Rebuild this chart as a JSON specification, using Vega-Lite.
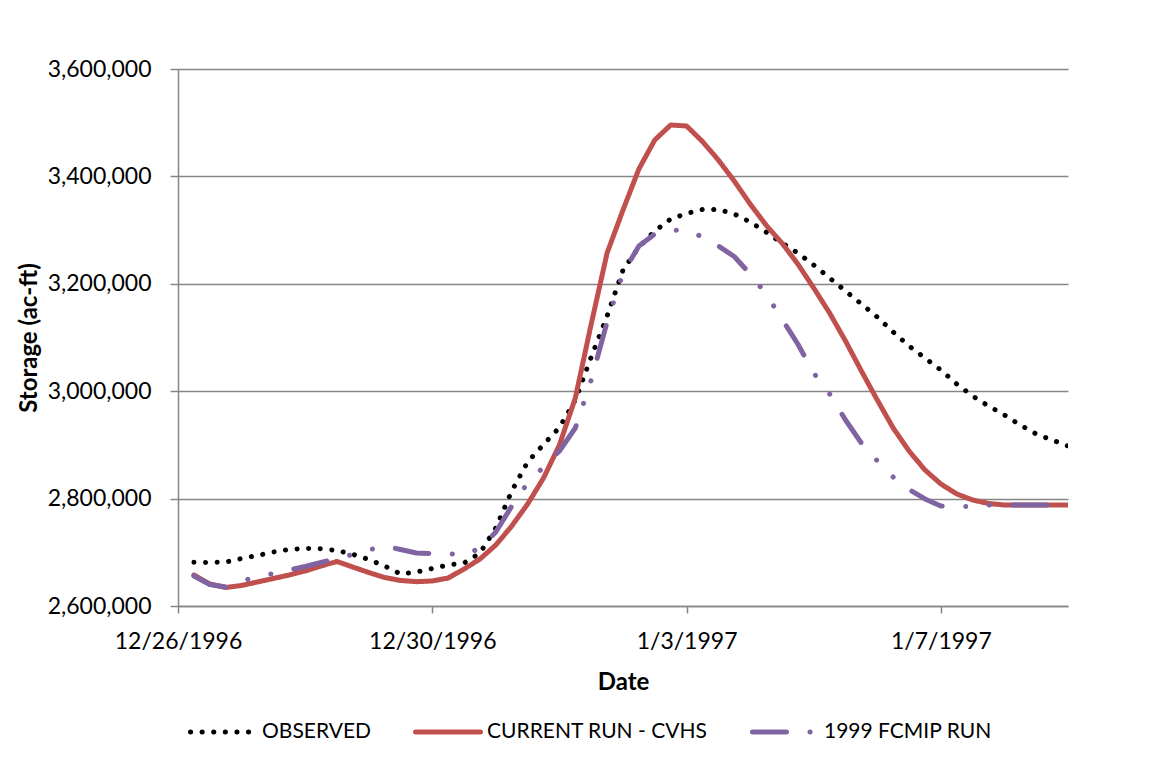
{
  "$schema": "https://vega.github.io/schema/vega-lite/v6.json",
  "width": 890,
  "height": 537,
  "autosize": {"type": "none"},
  "padding": {"left": 178, "top": 69, "right": 82, "bottom": 160},
  "background": "white",
  "config": {"view": {"stroke": null}, "font": "Lato"},
  "data": {
    "values": [
      {"t": "1996-12-26T06:00:00", "OBSERVED": 2681400, "CURRENT RUN - CVHS": 2657700, "1999 FCMIP RUN": 2655900},
      {"t": "1996-12-26T12:00:00", "OBSERVED": 2681000, "CURRENT RUN - CVHS": 2641000, "1999 FCMIP RUN": 2640000},
      {"t": "1996-12-26T18:00:00", "OBSERVED": 2681900, "CURRENT RUN - CVHS": 2634500, "1999 FCMIP RUN": 2635400},
      {"t": "1996-12-27T00:00:00", "OBSERVED": 2688500, "CURRENT RUN - CVHS": 2638200, "1999 FCMIP RUN": 2646600},
      {"t": "1996-12-27T06:00:00", "OBSERVED": 2694000, "CURRENT RUN - CVHS": 2644700, "1999 FCMIP RUN": 2654000},
      {"t": "1996-12-27T12:00:00", "OBSERVED": 2700600, "CURRENT RUN - CVHS": 2651200, "1999 FCMIP RUN": 2660500},
      {"t": "1996-12-27T18:00:00", "OBSERVED": 2705200, "CURRENT RUN - CVHS": 2657700, "1999 FCMIP RUN": 2667000},
      {"t": "1996-12-28T00:00:00", "OBSERVED": 2707400, "CURRENT RUN - CVHS": 2665200, "1999 FCMIP RUN": 2673600},
      {"t": "1996-12-28T06:00:00", "OBSERVED": 2706500, "CURRENT RUN - CVHS": 2674500, "1999 FCMIP RUN": 2681000},
      {"t": "1996-12-28T12:00:00", "OBSERVED": 2703400, "CURRENT RUN - CVHS": 2682900, "1999 FCMIP RUN": 2688500},
      {"t": "1996-12-28T18:00:00", "OBSERVED": 2696300, "CURRENT RUN - CVHS": 2672600, "1999 FCMIP RUN": 2695900},
      {"t": "1996-12-29T00:00:00", "OBSERVED": 2686600, "CURRENT RUN - CVHS": 2662400, "1999 FCMIP RUN": 2704300},
      {"t": "1996-12-29T06:00:00", "OBSERVED": 2674500, "CURRENT RUN - CVHS": 2653100, "1999 FCMIP RUN": 2711700},
      {"t": "1996-12-29T12:00:00", "OBSERVED": 2659600, "CURRENT RUN - CVHS": 2647500, "1999 FCMIP RUN": 2705200},
      {"t": "1996-12-29T18:00:00", "OBSERVED": 2663300, "CURRENT RUN - CVHS": 2645300, "1999 FCMIP RUN": 2698700},
      {"t": "1996-12-30T00:00:00", "OBSERVED": 2669800, "CURRENT RUN - CVHS": 2646600, "1999 FCMIP RUN": 2697800},
      {"t": "1996-12-30T06:00:00", "OBSERVED": 2676400, "CURRENT RUN - CVHS": 2652100, "1999 FCMIP RUN": 2697800},
      {"t": "1996-12-30T12:00:00", "OBSERVED": 2680100, "CURRENT RUN - CVHS": 2668900, "1999 FCMIP RUN": 2694000},
      {"t": "1996-12-30T18:00:00", "OBSERVED": 2698700, "CURRENT RUN - CVHS": 2687500, "1999 FCMIP RUN": 2708000},
      {"t": "1996-12-31T00:00:00", "OBSERVED": 2745300, "CURRENT RUN - CVHS": 2713600, "1999 FCMIP RUN": 2737800},
      {"t": "1996-12-31T06:00:00", "OBSERVED": 2814200, "CURRENT RUN - CVHS": 2749000, "1999 FCMIP RUN": 2786200},
      {"t": "1996-12-31T12:00:00", "OBSERVED": 2868200, "CURRENT RUN - CVHS": 2789900, "1999 FCMIP RUN": 2829100},
      {"t": "1996-12-31T18:00:00", "OBSERVED": 2900700, "CURRENT RUN - CVHS": 2838400, "1999 FCMIP RUN": 2858800},
      {"t": "1997-01-01T00:00:00", "OBSERVED": 2932400, "CURRENT RUN - CVHS": 2899800, "1999 FCMIP RUN": 2888600},
      {"t": "1997-01-01T06:00:00", "OBSERVED": 2983600, "CURRENT RUN - CVHS": 2987300, "1999 FCMIP RUN": 2931500},
      {"t": "1997-01-01T12:00:00", "OBSERVED": 3063700, "CURRENT RUN - CVHS": 3125100, "1999 FCMIP RUN": 3020900},
      {"t": "1997-01-01T18:00:00", "OBSERVED": 3140000, "CURRENT RUN - CVHS": 3257400, "1999 FCMIP RUN": 3128900},
      {"t": "1997-01-02T00:00:00", "OBSERVED": 3225700, "CURRENT RUN - CVHS": 3337400, "1999 FCMIP RUN": 3220100},
      {"t": "1997-01-02T06:00:00", "OBSERVED": 3268500, "CURRENT RUN - CVHS": 3413800, "1999 FCMIP RUN": 3270400},
      {"t": "1997-01-02T12:00:00", "OBSERVED": 3298300, "CURRENT RUN - CVHS": 3467800, "1999 FCMIP RUN": 3292700},
      {"t": "1997-01-02T18:00:00", "OBSERVED": 3320700, "CURRENT RUN - CVHS": 3495700, "1999 FCMIP RUN": 3299300},
      {"t": "1997-01-03T00:00:00", "OBSERVED": 3330900, "CURRENT RUN - CVHS": 3493900, "1999 FCMIP RUN": 3300200},
      {"t": "1997-01-03T06:00:00", "OBSERVED": 3338400, "CURRENT RUN - CVHS": 3465000, "1999 FCMIP RUN": 3287200},
      {"t": "1997-01-03T12:00:00", "OBSERVED": 3338400, "CURRENT RUN - CVHS": 3430500, "1999 FCMIP RUN": 3270400},
      {"t": "1997-01-03T18:00:00", "OBSERVED": 3330000, "CURRENT RUN - CVHS": 3391400, "1999 FCMIP RUN": 3250800},
      {"t": "1997-01-04T00:00:00", "OBSERVED": 3315100, "CURRENT RUN - CVHS": 3348600, "1999 FCMIP RUN": 3218300},
      {"t": "1997-01-04T06:00:00", "OBSERVED": 3296500, "CURRENT RUN - CVHS": 3309500, "1999 FCMIP RUN": 3181000},
      {"t": "1997-01-04T12:00:00", "OBSERVED": 3276000, "CURRENT RUN - CVHS": 3276000, "1999 FCMIP RUN": 3134500},
      {"t": "1997-01-04T18:00:00", "OBSERVED": 3257400, "CURRENT RUN - CVHS": 3236900, "1999 FCMIP RUN": 3087900},
      {"t": "1997-01-05T00:00:00", "OBSERVED": 3235000, "CURRENT RUN - CVHS": 3192200, "1999 FCMIP RUN": 3033900},
      {"t": "1997-01-05T06:00:00", "OBSERVED": 3210800, "CURRENT RUN - CVHS": 3145600, "1999 FCMIP RUN": 2994800},
      {"t": "1997-01-05T12:00:00", "OBSERVED": 3186600, "CURRENT RUN - CVHS": 3093500, "1999 FCMIP RUN": 2946400},
      {"t": "1997-01-05T18:00:00", "OBSERVED": 3162400, "CURRENT RUN - CVHS": 3037600, "1999 FCMIP RUN": 2903500},
      {"t": "1997-01-06T00:00:00", "OBSERVED": 3138200, "CURRENT RUN - CVHS": 2983600, "1999 FCMIP RUN": 2870000},
      {"t": "1997-01-06T06:00:00", "OBSERVED": 3110200, "CURRENT RUN - CVHS": 2931500, "1999 FCMIP RUN": 2840200},
      {"t": "1997-01-06T12:00:00", "OBSERVED": 3084200, "CURRENT RUN - CVHS": 2888600, "1999 FCMIP RUN": 2816900},
      {"t": "1997-01-06T18:00:00", "OBSERVED": 3061800, "CURRENT RUN - CVHS": 2853300, "1999 FCMIP RUN": 2799300},
      {"t": "1997-01-07T00:00:00", "OBSERVED": 3039500, "CURRENT RUN - CVHS": 2827200, "1999 FCMIP RUN": 2786200},
      {"t": "1997-01-07T06:00:00", "OBSERVED": 3013400, "CURRENT RUN - CVHS": 2808600, "1999 FCMIP RUN": 2784400},
      {"t": "1997-01-07T12:00:00", "OBSERVED": 2991100, "CURRENT RUN - CVHS": 2797400, "1999 FCMIP RUN": 2786200},
      {"t": "1997-01-07T18:00:00", "OBSERVED": 2972400, "CURRENT RUN - CVHS": 2790900, "1999 FCMIP RUN": 2788100},
      {"t": "1997-01-08T00:00:00", "OBSERVED": 2955700, "CURRENT RUN - CVHS": 2788100, "1999 FCMIP RUN": 2788100},
      {"t": "1997-01-08T06:00:00", "OBSERVED": 2937100, "CURRENT RUN - CVHS": 2788100, "1999 FCMIP RUN": 2788100},
      {"t": "1997-01-08T12:00:00", "OBSERVED": 2920300, "CURRENT RUN - CVHS": 2788100, "1999 FCMIP RUN": 2788100},
      {"t": "1997-01-08T18:00:00", "OBSERVED": 2909100, "CURRENT RUN - CVHS": 2788100, "1999 FCMIP RUN": 2788100},
      {"t": "1997-01-09T00:00:00", "OBSERVED": 2898000, "CURRENT RUN - CVHS": 2788100, "1999 FCMIP RUN": 2788100}
    ]
  },
  "transform": [
    {"fold": ["OBSERVED", "CURRENT RUN - CVHS", "1999 FCMIP RUN"], "as": ["series", "storage"]}
  ],
  "mark": {"type": "line", "strokeWidth": 5, "strokeCap": "round", "strokeJoin": "round", "clip": true},
  "encoding": {
    "x": {
      "field": "t",
      "type": "temporal",
      "scale": {"domain": [{"year": 1996, "month": 12, "date": 26}, {"year": 1997, "month": 1, "date": 9}]},
      "axis": {
        "title": "Date",
        "values": [
          {"year": 1996, "month": 12, "date": 26},
          {"year": 1996, "month": 12, "date": 30},
          {"year": 1997, "month": 1, "date": 3},
          {"year": 1997, "month": 1, "date": 7}
        ],
        "format": "%-m/%-d/%Y",
        "grid": false,
        "labelFlush": false,
        "labelOverlap": false,
        "labelFont": "Lato",
        "labelFontSize": 23,
        "labelColor": "#000000",
        "labelPadding": 17,
        "tickSize": 7,
        "tickColor": "#868686",
        "tickWidth": 1.5,
        "domainColor": "#868686",
        "domainWidth": 1.5,
        "titleFont": "Lato",
        "titleFontSize": 24,
        "titleFontWeight": "bold",
        "titleColor": "#000000",
        "titlePadding": 17
      }
    },
    "y": {
      "field": "storage",
      "type": "quantitative",
      "scale": {"domain": [2600000, 3600000], "zero": false, "nice": false},
      "axis": {
        "title": "Storage (ac-ft)",
        "values": [2600000, 2800000, 3000000, 3200000, 3400000, 3600000],
        "format": ",.0f",
        "grid": true,
        "gridColor": "#868686",
        "gridWidth": 1.5,
        "labelFlush": false,
        "labelFont": "Lato",
        "labelFontSize": 23,
        "labelColor": "#000000",
        "labelPadding": 19,
        "tickSize": 8,
        "tickColor": "#868686",
        "tickWidth": 1.5,
        "domainColor": "#868686",
        "domainWidth": 1.5,
        "titleFont": "Lato",
        "titleFontSize": 24,
        "titleFontWeight": "bold",
        "titleColor": "#000000",
        "titlePadding": 6
      }
    },
    "color": {
      "field": "series",
      "type": "nominal",
      "scale": {
        "domain": ["OBSERVED", "CURRENT RUN - CVHS", "1999 FCMIP RUN"],
        "range": ["#000000", "#C0504D", "#8064A2"]
      },
      "legend": {
        "title": null,
        "orient": "none",
        "legendX": 10,
        "legendY": 628,
        "direction": "horizontal",
        "symbolType": "stroke",
        "symbolSize": 4225,
        "symbolStrokeWidth": 5,
        "labelFont": "Lato",
        "labelFontSize": 21,
        "labelColor": "#000000",
        "labelOffset": 4,
        "labelLimit": 400,
        "columnPadding": 34,
        "encode": {"symbols": {"update": {"strokeCap": {"value": "round"}}}}
      }
    },
    "strokeDash": {
      "field": "series",
      "type": "nominal",
      "scale": {
        "domain": ["OBSERVED", "CURRENT RUN - CVHS", "1999 FCMIP RUN"],
        "range": [[0.1, 11.5], [1, 0], [34, 23.5, 0.1, 23.5, 0.1, 23.5]]
      },
      "legend": {
        "title": null,
        "orient": "none",
        "legendX": 10,
        "legendY": 628,
        "direction": "horizontal",
        "symbolType": "stroke",
        "symbolSize": 4225,
        "symbolStrokeWidth": 5,
        "labelFont": "Lato",
        "labelFontSize": 21,
        "labelColor": "#000000",
        "labelOffset": 4,
        "labelLimit": 400,
        "columnPadding": 34,
        "encode": {"symbols": {"update": {"strokeCap": {"value": "round"}}}}
      }
    }
  }
}
